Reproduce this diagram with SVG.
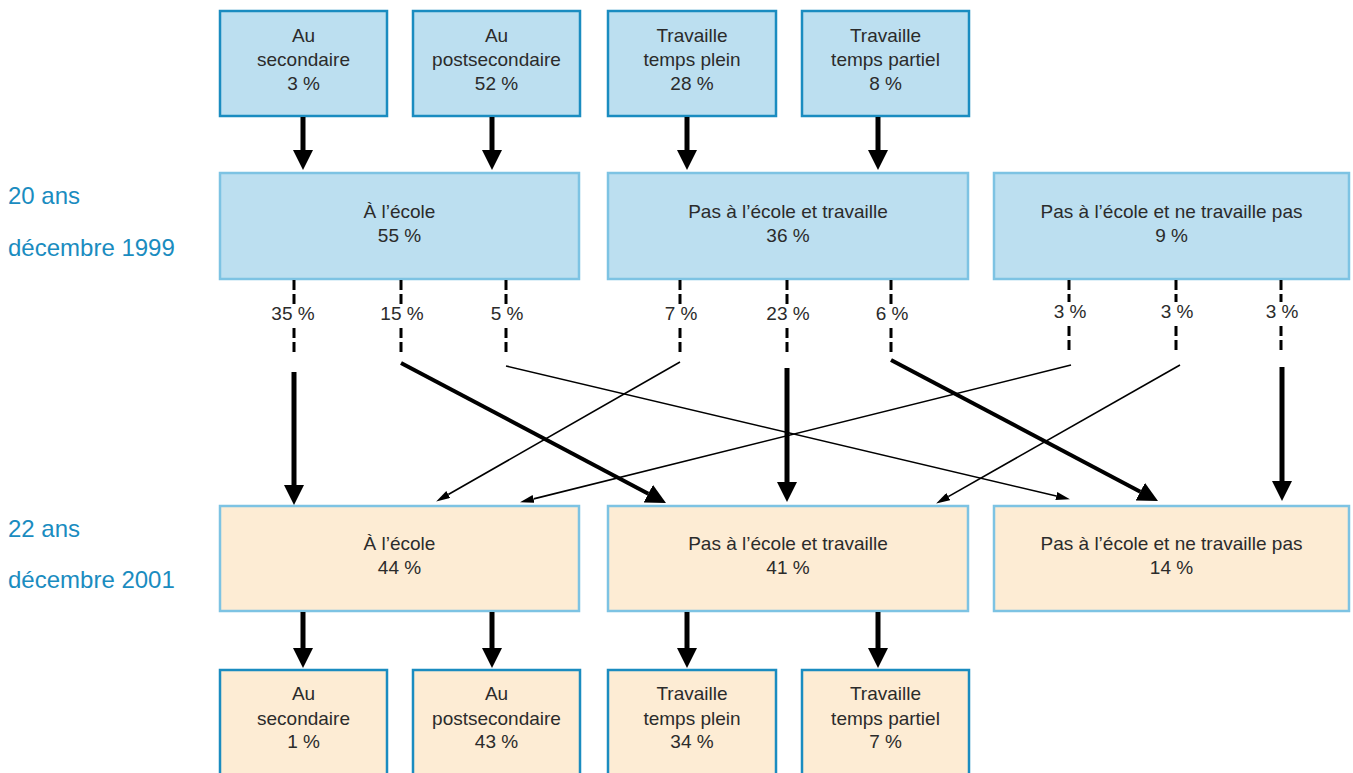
<svg xmlns="http://www.w3.org/2000/svg" width="1353" height="773" viewBox="0 0 1353 773">
<defs>
<style>
.sb{fill:#bcdff0;stroke:#1a8cc0;stroke-width:2.5}
.mb{fill:#bcdff0;stroke:#7dc3e3;stroke-width:2.5}
.mo{fill:#fdecd4;stroke:#7dc3e3;stroke-width:2.5}
.so{fill:#fdecd4;stroke:#1a8cc0;stroke-width:2.5}
.t{font-family:"Liberation Sans Narrow","Liberation Sans",Arial,sans-serif;font-size:19px;fill:#2b2b2b;text-anchor:middle}
.side{font-family:"Liberation Sans",Arial,sans-serif;font-size:24px;fill:#1a8cc0}
.thick{stroke:#000;stroke-width:5;fill:none}
.med{stroke:#000;stroke-width:4;fill:none}
.thin{stroke:#000;stroke-width:1.6;fill:none}
.dash{stroke:#000;stroke-width:3;stroke-dasharray:10 4;fill:none}
</style>
<marker id="ah" markerUnits="userSpaceOnUse" markerWidth="20" markerHeight="20" refX="0" refY="10" orient="auto" viewBox="0 0 20 20"><path d="M0,0 L20,10 L0,20 z" fill="#000"/></marker>
<marker id="ahs" markerUnits="userSpaceOnUse" markerWidth="14" markerHeight="8" refX="0" refY="4" orient="auto" viewBox="0 0 14 8"><path d="M0,0 L14,4 L0,8 z" fill="#000"/></marker>
</defs>
<rect width="1353" height="773" fill="#fff"/>

<g id="side-labels">
<text class="side" x="8" y="204">20 ans</text>
<text class="side" x="8" y="256">décembre 1999</text>
<text class="side" x="8" y="537">22 ans</text>
<text class="side" x="8" y="588">décembre 2001</text>
</g>

<g id="n-sec99"><rect class="sb" x="220" y="11" width="167" height="105"/><text class="t" x="303.5" y="42">Au</text><text class="t" x="303.5" y="66">secondaire</text><text class="t" x="303.5" y="90">3 %</text></g>
<g id="n-post99"><rect class="sb" x="413" y="11" width="167" height="105"/><text class="t" x="496.5" y="42">Au</text><text class="t" x="496.5" y="66">postsecondaire</text><text class="t" x="496.5" y="90">52 %</text></g>
<g id="n-tp99"><rect class="sb" x="608" y="11" width="168" height="105"/><text class="t" x="692" y="42">Travaille</text><text class="t" x="692" y="66">temps plein</text><text class="t" x="692" y="90">28 %</text></g>
<g id="n-tpa99"><rect class="sb" x="802" y="11" width="167" height="105"/><text class="t" x="885.5" y="42">Travaille</text><text class="t" x="885.5" y="66">temps partiel</text><text class="t" x="885.5" y="90">8 %</text></g>

<g id="n-ecole99"><rect class="mb" x="220" y="173" width="359" height="106"/><text class="t" x="399.5" y="218">À l’école</text><text class="t" x="399.5" y="242">55 %</text></g>
<g id="n-trav99"><rect class="mb" x="608" y="173" width="360" height="106"/><text class="t" x="788" y="218">Pas à l’école et travaille</text><text class="t" x="788" y="242">36 %</text></g>
<g id="n-rien99"><rect class="mb" x="994" y="173" width="355" height="106"/><text class="t" x="1171.5" y="218">Pas à l’école et ne travaille pas</text><text class="t" x="1171.5" y="242">9 %</text></g>

<g id="n-ecole01"><rect class="mo" x="220" y="506" width="359" height="105"/><text class="t" x="399.5" y="550">À l’école</text><text class="t" x="399.5" y="574">44 %</text></g>
<g id="n-trav01"><rect class="mo" x="608" y="506" width="360" height="105"/><text class="t" x="788" y="550">Pas à l’école et travaille</text><text class="t" x="788" y="574">41 %</text></g>
<g id="n-rien01"><rect class="mo" x="994" y="506" width="355" height="105"/><text class="t" x="1171.5" y="550">Pas à l’école et ne travaille pas</text><text class="t" x="1171.5" y="574">14 %</text></g>

<g id="n-sec01"><rect class="so" x="220" y="670" width="167" height="110"/><text class="t" x="303.5" y="700">Au</text><text class="t" x="303.5" y="725">secondaire</text><text class="t" x="303.5" y="748">1 %</text></g>
<g id="n-post01"><rect class="so" x="413" y="670" width="167" height="110"/><text class="t" x="496.5" y="700">Au</text><text class="t" x="496.5" y="725">postsecondaire</text><text class="t" x="496.5" y="748">43 %</text></g>
<g id="n-tp01"><rect class="so" x="608" y="670" width="168" height="110"/><text class="t" x="692" y="700">Travaille</text><text class="t" x="692" y="725">temps plein</text><text class="t" x="692" y="748">34 %</text></g>
<g id="n-tpa01"><rect class="so" x="802" y="670" width="167" height="110"/><text class="t" x="885.5" y="700">Travaille</text><text class="t" x="885.5" y="725">temps partiel</text><text class="t" x="885.5" y="748">7 %</text></g>

<g id="connectors">
<line class="thick" x1="303" y1="117" x2="303" y2="150" marker-end="url(#ah)"/>
<line class="thick" x1="492" y1="117" x2="492" y2="150" marker-end="url(#ah)"/>
<line class="thick" x1="687" y1="117" x2="687" y2="150" marker-end="url(#ah)"/>
<line class="thick" x1="878" y1="117" x2="878" y2="150" marker-end="url(#ah)"/>

<line class="thick" x1="303" y1="612" x2="303" y2="648" marker-end="url(#ah)"/>
<line class="thick" x1="492" y1="612" x2="492" y2="648" marker-end="url(#ah)"/>
<line class="thick" x1="687" y1="612" x2="687" y2="648" marker-end="url(#ah)"/>
<line class="thick" x1="878" y1="612" x2="878" y2="648" marker-end="url(#ah)"/>

<g id="dashes">
<path class="dash" d="M294,280 V304 M294,328 V356"/>
<path class="dash" d="M401,280 V304 M401,328 V356"/>
<path class="dash" d="M506,280 V304 M506,328 V356"/>
<path class="dash" d="M680,280 V304 M680,328 V356"/>
<path class="dash" d="M787,280 V304 M787,328 V356"/>
<path class="dash" d="M891,280 V304 M891,328 V356"/>
<path class="dash" d="M1069,280 V302 M1069,326 V354"/>
<path class="dash" d="M1176,280 V302 M1176,326 V354"/>
<path class="dash" d="M1281,280 V302 M1281,326 V354"/>
</g>

<line class="thick" x1="294" y1="372" x2="294" y2="485" marker-end="url(#ah)"/>
<line class="med" x1="401" y1="363" x2="648.3" y2="493.7" marker-end="url(#ah)"/>
<line class="thin" x1="506" y1="366" x2="1056.3" y2="496" marker-end="url(#ahs)"/>
<line class="thin" x1="680" y1="362" x2="448.3" y2="494.5" marker-end="url(#ahs)"/>
<line class="thick" x1="787" y1="368" x2="787" y2="482" marker-end="url(#ah)"/>
<line class="med" x1="891" y1="360" x2="1140.3" y2="491.7" marker-end="url(#ah)"/>
<line class="thin" x1="1071" y1="365" x2="533.6" y2="498.9" marker-end="url(#ahs)"/>
<line class="thin" x1="1180" y1="365" x2="948.3" y2="496.6" marker-end="url(#ahs)"/>
<line class="thick" x1="1282" y1="367" x2="1282" y2="481" marker-end="url(#ah)"/>
</g>

<g id="flow-labels">
<text class="t" x="293" y="320">35 %</text>
<text class="t" x="402" y="320">15 %</text>
<text class="t" x="507" y="320">5 %</text>
<text class="t" x="681" y="320">7 %</text>
<text class="t" x="788" y="320">23 %</text>
<text class="t" x="892" y="320">6 %</text>
<text class="t" x="1070" y="318">3 %</text>
<text class="t" x="1177" y="318">3 %</text>
<text class="t" x="1282" y="318">3 %</text>
</g>
</svg>
